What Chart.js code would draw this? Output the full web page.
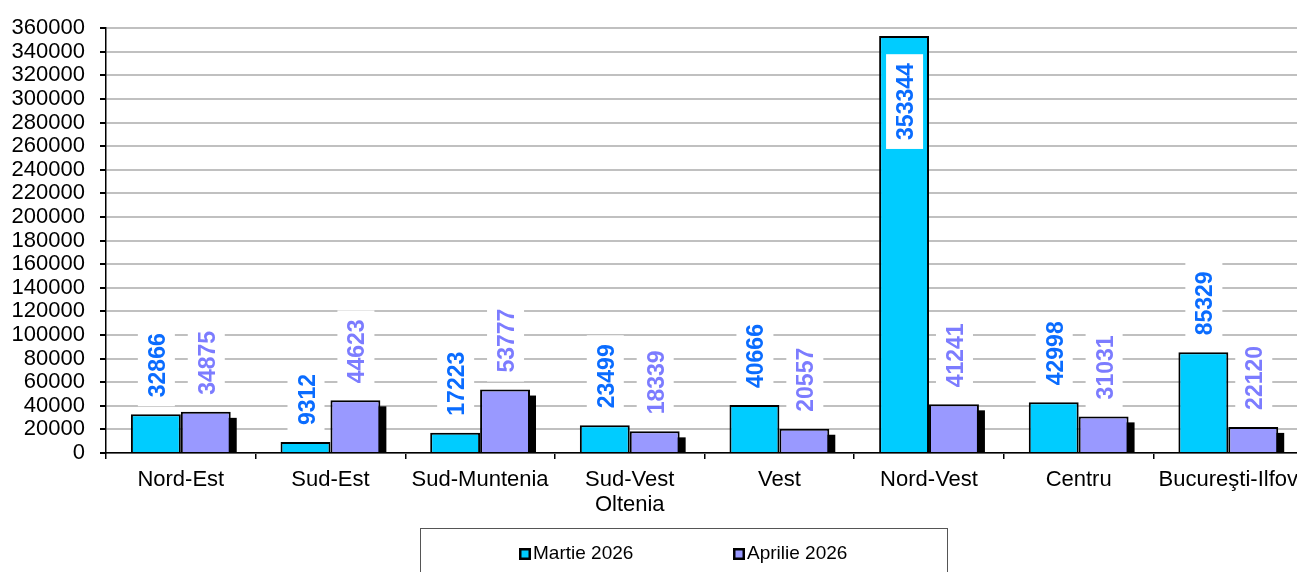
<!DOCTYPE html>
<html lang="ro">
<head>
  <meta charset="UTF-8" />
  <title>Martie / Aprilie 2026 pe regiuni</title>
  <style>
    html, body {
      margin: 0;
      padding: 0;
      background: #fff;
      overflow: hidden;
    }
    #wrap {
      width: 1297px;
      height: 572px;
      overflow: hidden;
    }
    canvas { display: block; }
  </style>
  <script src="https://cdn.jsdelivr.net/npm/chart.js@4/dist/chart.umd.min.js"></script>
</head>
<body>
<div id="wrap">
  <canvas id="chart" width="1306" height="572"></canvas>
</div>

<script>
  const regiuni = ['Nord-Est', 'Sud-Est', 'Sud-Muntenia', ['Sud-Vest', 'Oltenia'], 'Vest', 'Nord-Vest', 'Centru', 'Bucureşti-Ilfov'];
  const martie = [32866, 9312, 17223, 23499, 40666, 353344, 42998, 85329];
  const aprilie = [34875, 44623, 53777, 18339, 20557, 41241, 31031, 22120];
  const serii = ['Martie 2026', 'Aprilie 2026'];

  const FONT = '"Liberation Sans", Arial, sans-serif';
  const culoriBare = ['#00CCFF', '#9999FF'];
  const culoriEtichete = ['#0A6CFF', '#7C7CFF'];

  // umbra neagra in dreapta barelor din aprilie
  const umbra = {
    id: 'umbra',
    beforeDatasetDraw(chart, args) {
      if (args.index !== 1) return;
      const ctx = chart.ctx;
      const area = chart.chartArea;
      const base = chart.scales.y.getPixelForValue(0);
      ctx.save();
      ctx.beginPath();
      ctx.rect(area.left, area.top, area.right - area.left, area.bottom - area.top);
      ctx.clip();
      ctx.fillStyle = '#000';
      args.meta.data.forEach(bar => {
        const w = bar.width;
        ctx.fillRect(bar.x - w / 2 + 6, bar.y + 6, w, base - bar.y - 6);
      });
      ctx.restore();
    }
  };

  // etichete verticale cu fundal alb
  const etichete = {
    id: 'etichete',
    afterDatasetsDraw(chart) {
      const ctx = chart.ctx;
      const area = chart.chartArea;
      ctx.save();
      ctx.font = 'bold 23px ' + FONT;
      chart.data.datasets.forEach((ds, di) => {
        const meta = chart.getDatasetMeta(di);
        meta.data.forEach((bar, i) => {
          const txt = String(ds.data[i]);
          const len = ctx.measureText(txt).width;
          let jos = bar.y - 17;
          if (jos - len < area.top + 35) jos = area.top + 35 + len;
          const cx = bar.x;
          ctx.fillStyle = '#fff';
          ctx.fillRect(cx - 18, jos - len - 9, 37, len + 18);
          ctx.save();
          ctx.translate(cx + 9, jos);
          ctx.rotate(-Math.PI / 2);
          ctx.fillStyle = culoriEtichete[di];
          ctx.textAlign = 'left';
          ctx.textBaseline = 'alphabetic';
          ctx.fillText(txt, 0, 0);
          ctx.restore();
        });
      });
      ctx.restore();
    }
  };

  // legenda in caseta, jos
  const legenda = {
    id: 'legenda',
    afterDraw(chart) {
      const ctx = chart.ctx;
      ctx.save();
      ctx.strokeStyle = '#555';
      ctx.lineWidth = 1;
      ctx.strokeRect(420.5, 528.5, 527, 60);
      const xs = [519, 733];
      ctx.font = '19px ' + FONT;
      ctx.textBaseline = 'middle';
      chart.data.datasets.forEach((ds, i) => {
        ctx.fillStyle = '#000';
        ctx.fillRect(xs[i], 548, 12, 12);
        ctx.fillStyle = ds.backgroundColor;
        ctx.fillRect(xs[i] + 2.5, 550.5, 7, 7);
        ctx.fillStyle = '#000';
        ctx.fillText(ds.label, xs[i] + 14, 554);
      });
      ctx.restore();
    }
  };

  new Chart(document.getElementById('chart'), {
    type: 'bar',
    data: {
      labels: regiuni,
      datasets: [
        { label: serii[0], data: martie, backgroundColor: culoriBare[0], borderColor: '#000', borderWidth: 2 },
        { label: serii[1], data: aprilie, backgroundColor: culoriBare[1], borderColor: '#000', borderWidth: 2 }
      ]
    },
    options: {
      responsive: false,
      animation: false,
      layout: { padding: { top: 22, left: 0, right: 0, bottom: 44 } },
      datasets: { bar: { categoryPercentage: 0.667, barPercentage: 1.0 } },
      plugins: {
        legend: { display: false },
        tooltip: { enabled: false }
      },
      scales: {
        x: {
          afterFit(scale) { scale.height = 75; },
          grid: { display: true, drawOnChartArea: false, offset: true, tickLength: 6, tickColor: '#000', lineWidth: 1.5 },
          border: { color: '#000', width: 1.5 },
          ticks: { color: '#000', font: { family: FONT, size: 22, lineHeight: 1.15 }, padding: 8, maxRotation: 0, autoSkip: false }
        },
        y: {
          min: 0,
          max: 360000,
          afterFit(scale) { scale.width = 106; },
          grid: { color: '#C0C0C0', lineWidth: 2, tickLength: 6, tickColor: '#000' },
          border: { color: '#000', width: 1.5 },
          ticks: {
            stepSize: 20000,
            autoSkip: false,
            color: '#000',
            font: { family: FONT, size: 22 },
            padding: 15,
            callback: v => String(v)
          }
        }
      }
    },
    plugins: [umbra, etichete, legenda]
  });
</script>
</body>
</html>
